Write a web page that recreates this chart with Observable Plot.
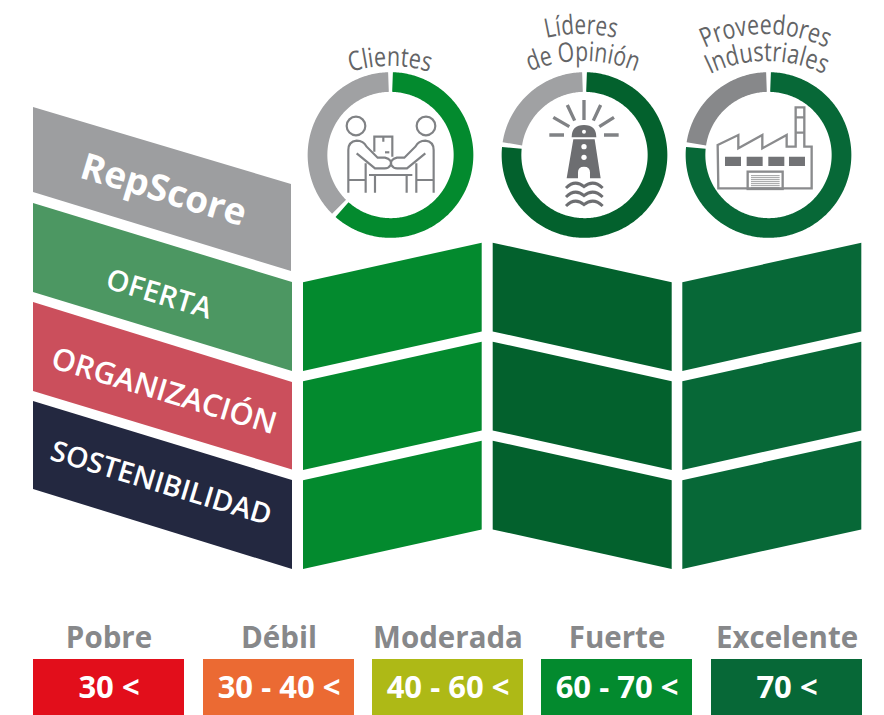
<!DOCTYPE html>
<html><head><meta charset="utf-8">
<style>html,body{margin:0;padding:0;background:#fff}svg{display:block}</style>
<script src="https://cdn.jsdelivr.net/npm/d3@7"></script>
<script src="https://cdn.jsdelivr.net/npm/@observablehq/plot@0.6"></script>
</head><body><div id="chart"></div>
<script>
// Content
const dimensions = ["RepScore","OFERTA","ORGANIZACIÓN","SOSTENIBILIDAD"];
const dimensionColors = ["#9d9ea0","#4c9762","#cb4f5c","#232840"];
const stakeholders = ["Clientes","Líderes de Opinión","Proveedores Industriales"];
const repScore = [62,77,77];
const columnColors = ["#038a2e","#03612d","#076837"];
const remainderColors = ["#a0a1a3","#a0a1a3","#87888a"];
const bandNames = ["Pobre","Débil","Moderada","Fuerte","Excelente"];
const bandRanges = ["30 <","30 - 40 <","40 - 60 <","60 - 70 <","70 <"];
const bandColors = ["#e20e1b","#eb6a33","#aeb916","#038a2e","#076837"];

// Layout
const W = 884, H = 715;
const rowStep = 99, cellH = 88.7, cellRise = 39.5;
const cols = [[303,481.7,true],[492.7,671.7,false],[682.3,861.3,true]];
const donutX = [390,584,768], donutY = 154.5, rMid = 73, ring = 19.7;

const leftRows = [[[33,107,192],[291,184,271]],[[33,203,292],[292,282,371]],[[33,302,391],[292,382,469.5]],[[33,401,489],[292,480,569]]];
const leftCells = dimensions.flatMap((d,i)=>leftRows[i].map(p=>({id:d,x:p[0],y1:p[1],y2:p[2],color:dimensionColors[i]})));

const gridCells = stakeholders.flatMap((s,c)=>dimensions.slice(1).flatMap((d,r)=>{
  const [x0,x1,rising] = cols[c];
  const hi = 242.7 + rowStep*r, lo = hi + cellRise;
  return [[x0,rising?lo:hi],[x1,rising?hi:lo]].map(([x,y])=>({id:s+d,x,y1:y,y2:y+cellH,color:columnColors[c]}));
}));

const degs = (a,b)=>d3.range(a,b,1).concat([b]);
const gap = 1.6;
const donut = stakeholders.flatMap((s,i)=>{
  const split = repScore[i]*3.6;
  const seg = (a,b,color,k)=>degs(a,b).map(t=>({
    id:s+k,color,
    x:donutX[i]+rMid*Math.sin(t*Math.PI/180),
    y:donutY-rMid*Math.cos(t*Math.PI/180)}));
  return [...seg(gap,split-gap,columnColors[i],"a"),...seg(split+gap,360-gap,remainderColors[i],"b")];
});

const bandX = [[33,184],[203,354],[372,523],[541,692],[711,862]];
const bands = bandNames.map((n,i)=>({name:n,range:bandRanges[i],x1:bandX[i][0],x2:bandX[i][1],color:bandColors[i]}));

const titleLabel = [{text:dimensions[0],x:163,y:190}];
const rowLabels = dimensions.slice(1).map((d,i)=>({text:d,x:[158.5,163.5,160.5][i],y:[294,391,483][i],size:[29,30.5,28.5][i]}));

// Curved captions
const captions = [
  {text:"Clientes",cx:390,base:66,R:135,len:80},
  {text:"Líderes",cx:581,base:34,R:150,len:70},
  {text:"de Opinión",cx:583,base:61,R:140,len:109},
  {text:"Proveedores",cx:765.5,base:34,R:140,len:126},
  {text:"Industriales",cx:767,base:61,R:130,len:118}
];
function curvedCaptions(index,scales){
  const g = d3.create("svg:g").attr("font-family","'Open Sans',sans-serif").attr("fill","#636466");
  captions.forEach((c,i)=>{
    const cx=scales.x(c.cx), cy=scales.y(c.base)+c.R, r=c.R, a=Math.PI/3;
    const id="cap"+i;
    g.append("path").attr("id",id).attr("fill","none")
     .attr("d",`M${cx-r*Math.sin(a)},${cy-r*Math.cos(a)}A${r},${r} 0 0 1 ${cx+r*Math.sin(a)},${cy-r*Math.cos(a)}`);
    g.append("text").attr("font-size",27)
     .append("textPath").attr("href","#"+id).attr("startOffset","50%").attr("text-anchor","middle")
     .attr("textLength",c.len).attr("lengthAdjust","spacingAndGlyphs").text(c.text);
  });
  return g.node();
}

// Pictograms inside the rings
const iconInk = "#808285";
const person = `<path d="M160,578V450Q160,425 185,422Q205,422 215,440L248,473H270Q292,478 287,495Q280,507 265,505H240L185,460"/><path d="M212,490V578M160,540H212"/>`;
const iconMarkup = [
 `<g transform="translate(295,0) scale(.3333)" fill="none" stroke="${iconInk}" stroke-width="6.5">
   <circle cx="183" cy="378" r="28"/><circle cx="393" cy="378" r="28"/>
   <path d="M238,455V410H292V470M265,412V425"/><path d="M270,457H283" />
   ${person}<g transform="translate(576,0) scale(-1,1)">${person}</g>
   <path d="M222,525H352M240,525V578M335,525V578"/></g>`,
 `<g transform="translate(490,0) scale(.3333)" fill="none" stroke="${iconInk}" stroke-width="10">
   <path d="M282,300V360M232,315L254,362M332,315L310,362M190,352L238,380M372,352L328,380M178,405H222M342,405H386"/>
   <path stroke="none" fill="#6d6e71" d="M245,412Q245,375 282,375Q319,375 319,412ZM250,418H314L332,535H300V517Q300,500 282,500Q264,500 264,517V535H230Z"/>
   <circle stroke="none" fill="#fff" cx="282" cy="395" r="6"/><circle stroke="none" fill="#fff" cx="282" cy="440" r="8"/><circle stroke="none" fill="#fff" cx="282" cy="472" r="8"/>
   <g stroke="#6d6e71" stroke-width="9"><path d="M228,564Q255,537 282,560Q310,537 338,564"/><path d="M228,591Q255,564 282,587Q310,564 338,591"/><path d="M228,618Q255,591 282,614Q310,591 338,618"/></g></g>`,
 `<g transform="translate(675,0) scale(.3333)" fill="none" stroke="#8a8b8d" stroke-width="7">
   <path d="M128,435L190,405V445L262,405V445L335,405V440H362V322H388V440H410V565H130Z"/>
   <path d="M362,352H388M362,398H388"/>
   <path stroke="none" fill="#727376" d="M150,470h48v28h-48zM215,470h48v28h-48zM280,470h48v28h-48zM342,470h48v28h-48z"/>
   <rect x="218" y="515" width="105" height="52"/>
   <path stroke-width="2.5" d="M228,527H314M228,533H314M228,539H314M228,545H314M228,551H314M228,557H314M228,563H314"/></g>`
];
function icons(){
  const g = d3.create("svg:g");
  g.html(iconMarkup.join(""));
  return g.node();
}

const slope = Math.atan(77.5/258)*180/Math.PI;
const font = "'Open Sans',sans-serif";
const mid = d=>(d.x1+d.x2)/2;
const plot = Plot.plot({
  width:W,height:H,margin:0,
  x:{domain:[0,W],range:[0,W],axis:null},
  y:{domain:[0,H],range:[0,H],axis:null},
  color:{type:"identity"},
  style:{background:"#fff"},
  marks:[
    Plot.area(leftCells,{x1:"x",y1:"y1",y2:"y2",z:"id",fill:"color"}),
    Plot.area(gridCells,{x1:"x",y1:"y1",y2:"y2",z:"id",fill:"color"}),
    Plot.line(donut,{x:"x",y:"y",z:"id",stroke:"color",strokeWidth:ring,strokeLinecap:"butt",strokeLinejoin:"round"}),
    Plot.text(titleLabel,{x:"x",y:"y",text:"text",rotate:slope,fill:"#fff",fontSize:37,fontWeight:700,fontFamily:font,lineAnchor:"middle"}),
    Plot.text(rowLabels,{x:"x",y:"y",text:"text",rotate:slope,fill:"#fff",fontSize:"size",fontWeight:600,fontFamily:font,lineAnchor:"middle"}),
    Plot.rect(bands,{x1:"x1",x2:"x2",y1:659,y2:715,fill:"color"}),
    Plot.text(bands,{x:mid,y:638,text:"name",fill:"#87888a",fontSize:29.5,fontWeight:700,fontFamily:font,lineAnchor:"middle"}),
    Plot.text(bands,{x:mid,y:688,text:"range",fill:"#fff",fontSize:31,fontWeight:700,fontFamily:font,lineAnchor:"middle"}),
    curvedCaptions,
    icons
  ]
});
document.getElementById("chart").append(plot);
</script></body></html>
